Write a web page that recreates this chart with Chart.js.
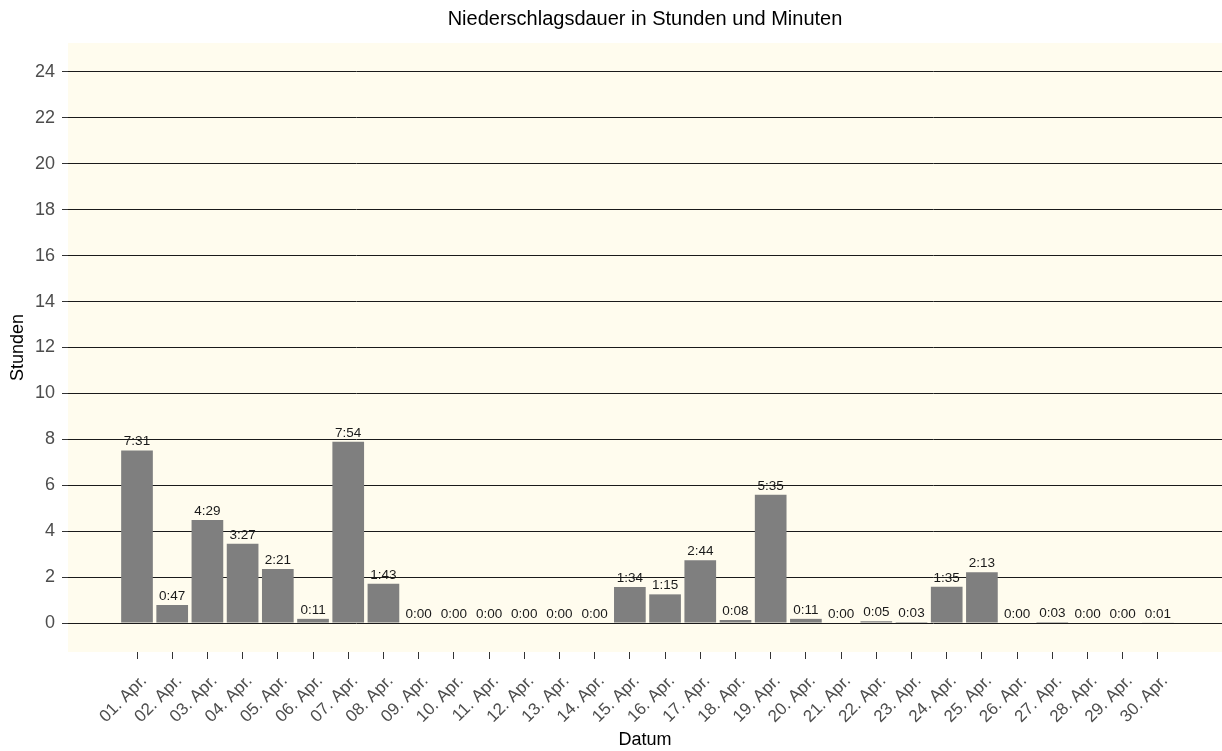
<!DOCTYPE html>
<html>
<head>
<meta charset="utf-8">
<script src="https://cdn.jsdelivr.net/npm/chart.js@4.4.1/dist/chart.umd.min.js"></script>
<style>
  html, body { margin: 0; padding: 0; background: #ffffff; }
  #wrap { width: 1222px; height: 751px; }
</style>
</head>
<body>
<div id="wrap"><canvas id="rainChart" width="1222" height="751"></canvas></div>
<script>
// Tage im April
const dayLabels = [
  "01. Apr.", "02. Apr.", "03. Apr.", "04. Apr.", "05. Apr.", "06. Apr.",
  "07. Apr.", "08. Apr.", "09. Apr.", "10. Apr.", "11. Apr.", "12. Apr.",
  "13. Apr.", "14. Apr.", "15. Apr.", "16. Apr.", "17. Apr.", "18. Apr.",
  "19. Apr.", "20. Apr.", "21. Apr.", "22. Apr.", "23. Apr.", "24. Apr.",
  "25. Apr.", "26. Apr.", "27. Apr.", "28. Apr.", "29. Apr.", "30. Apr."
];
// Niederschlagsdauer je Tag in Minuten
const rainMinutes = [
  451, 47, 269, 207, 141, 11, 474, 103, 0, 0, 0, 0, 0, 0,
  94, 75, 164, 8, 335, 11, 0, 5, 3, 95, 133, 0, 3, 0, 0, 1
];
const yTicks = [0, 2, 4, 6, 8, 10, 12, 14, 16, 18, 20, 22, 24];

const FONT = "'Liberation Sans', Arial, sans-serif";
const fmtDuration = m => Math.floor(m / 60) + ":" + String(m % 60).padStart(2, "0");

const points = rainMinutes.map((m, i) => ({ x: i + 1, y: m / 60 }));

const panelBg = {
  id: "panelBg",
  beforeDraw(chart) {
    const { ctx, chartArea: a } = chart;
    ctx.save();
    ctx.fillStyle = "#fffcee";
    ctx.fillRect(a.left, a.top, a.right - a.left, a.bottom - a.top);
    ctx.restore();
  }
};

const barText = {
  id: "barText",
  afterDatasetsDraw(chart) {
    const ctx = chart.ctx;
    const meta = chart.getDatasetMeta(0);
    ctx.save();
    ctx.font = "13.5px " + FONT;
    ctx.fillStyle = "#1a1a1a";
    ctx.textAlign = "center";
    ctx.textBaseline = "bottom";
    meta.data.forEach((bar, i) => {
      ctx.fillText(fmtDuration(rainMinutes[i]), bar.x, bar.y - 2);
    });
    ctx.restore();
  }
};

new Chart(document.getElementById("rainChart"), {
  type: "bar",
  data: {
    datasets: [{
      data: points,
      backgroundColor: "#7f7f7f",
      borderWidth: 0,
      barPercentage: 0.9,
      categoryPercentage: 1.0
    }]
  },
  options: {
    responsive: false,
    animation: false,
    layout: { padding: 0 },
    plugins: {
      legend: { display: false },
      tooltip: { enabled: false },
      title: {
        display: true,
        fullSize: false,
        text: "Niederschlagsdauer in Stunden und Minuten",
        color: "#000000",
        font: { family: FONT, size: 20, weight: "normal" },
        padding: { top: 7, bottom: 12 }
      }
    },
    scales: {
      x: {
        type: "linear",
        min: -0.96,
        max: 31.82,
        offset: false,
        border: { display: false },
        grid: { offset: false, drawOnChartArea: false, drawTicks: true, tickLength: 7, tickColor: "#333333", lineWidth: 1 },
        afterBuildTicks(scale) {
          scale.ticks = dayLabels.map((_, i) => ({ value: i + 1 }));
        },
        afterFit(scale) { scale.height = 99; },
        ticks: {
          autoSkip: false,
          minRotation: 45,
          maxRotation: 45,
          color: "#4d4d4d",
          padding: 12,
          labelOffset: 7,
          font: { family: FONT, size: 17 },
          callback: v => dayLabels[v - 1] || ""
        },
        title: {
          display: true,
          text: "Datum",
          color: "#000000",
          font: { family: FONT, size: 18 },
          padding: { top: 0, bottom: 0 }
        }
      },
      y: {
        min: -1.26,
        max: 25.26,
        border: { display: false },
        grid: { color: "#1a1a1a", lineWidth: 1, drawTicks: true, tickLength: 6, tickColor: "#333333" },
        afterBuildTicks(scale) {
          scale.ticks = yTicks.map(v => ({ value: v }));
        },
        afterFit(scale) { scale.width = 68; },
        ticks: {
          color: "#4d4d4d",
          padding: 7,
          font: { family: FONT, size: 18 }
        },
        title: {
          display: true,
          text: "Stunden",
          color: "#000000",
          font: { family: FONT, size: 18 },
          padding: { top: 7, bottom: 0 }
        }
      }
    }
  },
  plugins: [panelBg, barText]
});
</script>
</body>
</html>
